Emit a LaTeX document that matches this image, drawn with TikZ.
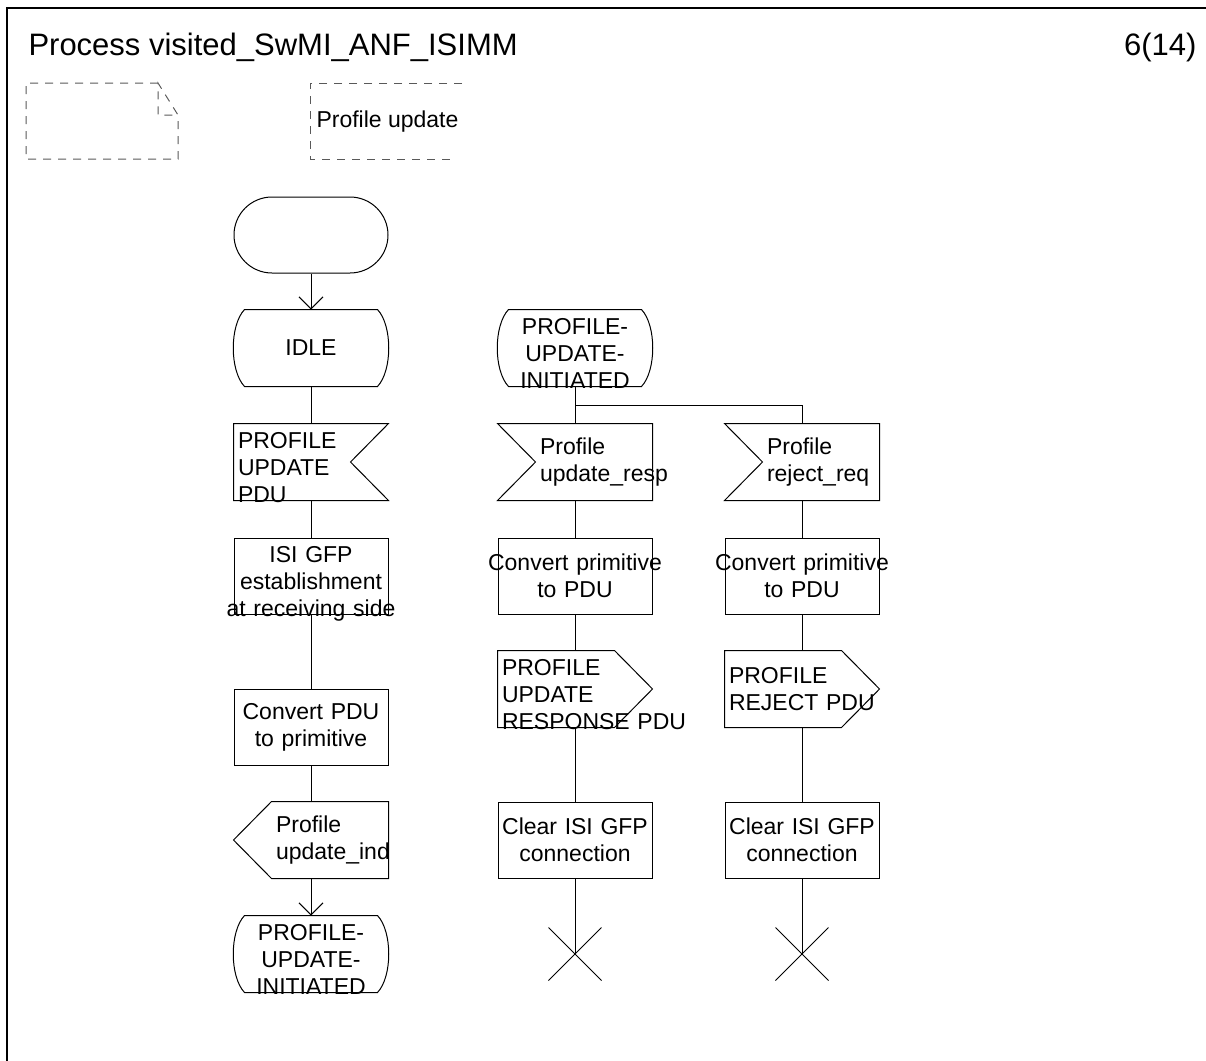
\documentclass[tikz,border=0pt]{standalone}
\usepackage{fontspec}
\setmainfont{Liberation Sans}
\hyphenpenalty=10000
\usetikzlibrary{arrows.meta,shapes.misc}

\begin{document}
\begin{tikzpicture}[x=.5pt,y=-.5pt,line width=.5pt,
  sdl/.style={inner sep=0pt,text width=77pt,minimum height=38pt,font=\fontsize{11.5}{13.5}\selectfont},
  tall/.style={text height=12pt,text depth=26pt},
  task/.style={sdl,draw,align=center},
  state/.style={sdl,align=center},
  sig/.style={sdl,align=left,execute at begin node={\leftskip=2pt}},
  sigl/.style={sdl,align=left,execute at begin node={\leftskip=21pt}},
  stopx/.style={draw,cross out,minimum size=26pt,inner sep=0pt},
  flow/.style={-{Straight Barb[length=6pt,width=12pt]}},
  dashbox/.style={gray!70!black,dash pattern=on 4pt off 3.5pt},
  head/.style={font=\fontsize{15.5}{18}\selectfont,inner sep=0pt}]
\useasboundingbox (0,0) rectangle (1206,1061);
\draw[line width=1pt] (7,1061)--(7,8)--(1206,8);
\node[head,anchor=base west] (title) at (28,55) {Process visited\_SwMI\_ANF\_ISIMM};
\node[head,anchor=base east] (page) at (1197,55) {6(14)};

\draw[dashbox] (158,83)--(26,83)--(26,159)--(178,159)--(178,115)--(158,83)--(158,115)--(178,115);
\node[font=\fontsize{11.5}{13.5}\selectfont,inner sep=0pt,anchor=west] (txt) at (316,122) {Profile update};
\draw[dashbox] (462,83)--(310,83)--(310,159)--(455,159);

\node[rounded rectangle,draw,minimum width=77pt,minimum height=38pt,inner sep=0pt] (start) at (311,235) {};
\node[state] (idle) at (311,348) {IDLE};
\node[sig,tall] (pdu) at (311,462) {PROFILE\\UPDATE\\PDU};
\node[task,tall] (gfp) at (311,576) {ISI GFP\\establishment\\\makebox[0pt]{at receiving side}};
\node[task] (conv) at (311,727) {Convert PDU\\to primitive};
\node[sigl] (ind) at (311,840) {Profile\\\mbox{update\_ind}};
\node[state,tall] (pue) at (311,954) {PROFILE-\\UPDATE-\\INITIATED};

\node[state,tall] (pui) at (575,348) {PROFILE-\\UPDATE-\\INITIATED};
\node[sigl] (resp) at (575,462) {Profile\\\mbox{update\_resp}};
\node[task] (convr) at (575,576) {\makebox[0pt]{Convert primitive}\\to PDU};
\node[sig,tall] (rsp) at (575,689) {PROFILE\\UPDATE\\\mbox{RESPONSE PDU}};
\node[task] (clr) at (575,840) {\makebox[0pt]{Clear ISI GFP}\\connection};
\node[stopx] (stop1) at (575,954) {};

\node[sigl] (rej) at (802,462) {Profile\\\mbox{reject\_req}};
\node[task] (convj) at (802,576) {\makebox[0pt]{Convert primitive}\\to PDU};
\node[sig] (rjp) at (802,689) {PROFILE\\\mbox{REJECT PDU}};
\node[task] (clj) at (802,840) {\makebox[0pt]{Clear ISI GFP}\\connection};
\node[stopx] (stop2) at (802,954) {};

\foreach \n in {idle,pui,pue}
  \draw ([xshift=5.5pt]\n.north west)--([xshift=-5.5pt]\n.north east) .. controls ([xshift=2pt,yshift=-8pt]\n.north east) and ([xshift=2pt,yshift=8pt]\n.south east) .. ([xshift=-5.5pt]\n.south east)
    --([xshift=5.5pt]\n.south west) .. controls ([xshift=-2pt,yshift=8pt]\n.south west) and ([xshift=-2pt,yshift=-8pt]\n.north west) .. cycle;
\draw (pdu.north west)--(pdu.north east)--([xshift=-19pt]pdu.east)--(pdu.south east)--(pdu.south west)--cycle;
\foreach \n in {resp,rej}
  \draw (\n.north west)--(\n.north east)--(\n.south east)--(\n.south west)--([xshift=19pt]\n.west)--cycle;
\foreach \n in {rsp,rjp}
  \draw (\n.north west)--([xshift=-19pt]\n.north east)--(\n.east)--([xshift=-19pt]\n.south east)--(\n.south west)--cycle;
\draw ([xshift=19pt]ind.north west)--(ind.north east)--(ind.south east)--([xshift=19pt]ind.south west)--(ind.west)--cycle;

\draw[flow] (start.south)--(idle.north);
\draw[flow] (ind.south)--(pue.north);
\foreach \a/\b in {idle/pdu,pdu/gfp,gfp/conv,conv/ind,pui/resp,resp/convr,convr/rsp,rsp/clr,rej/convj,convj/rjp,rjp/clj}
  \draw (\a.south)--(\b.north);
\coordinate (fork) at (575,405);
\draw (fork)-|(rej.north);
\draw (clr.south)--(stop1.center);
\draw (clj.south)--(stop2.center);
\end{tikzpicture}
\end{document}
